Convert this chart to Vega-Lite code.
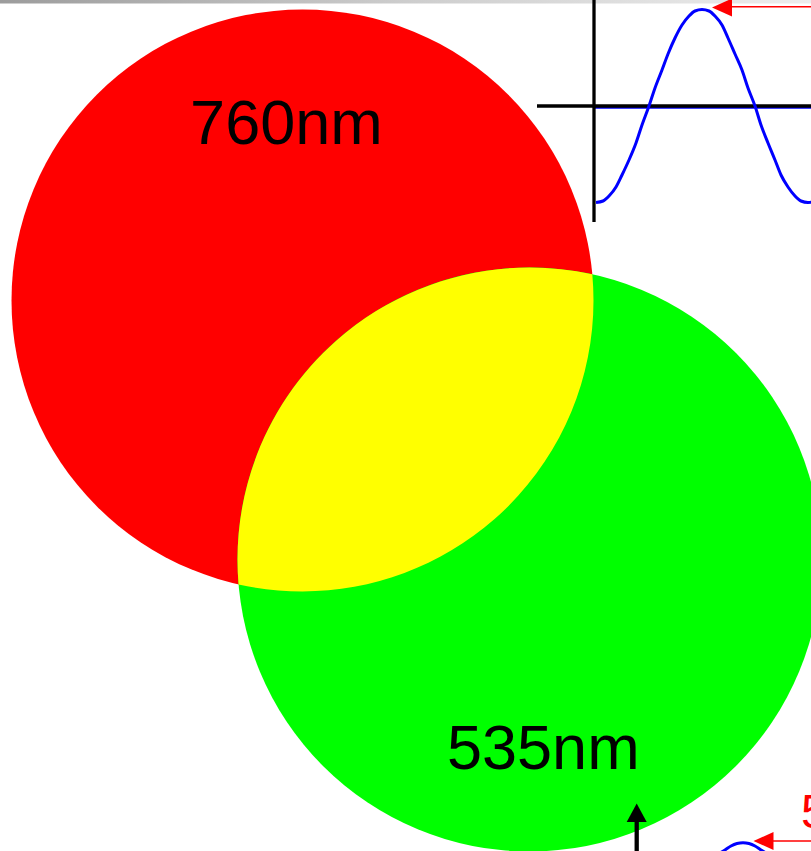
{
  "$schema": "https://vega.github.io/schema/vega-lite/v6.json",
  "width": 811,
  "height": 851,
  "autosize": {"type": "none"},
  "padding": 0,
  "background": "white",
  "config": {"view": {"stroke": null}},
  "encoding": {
    "x": {"field": "x", "type": "quantitative", "scale": {"domain": [0, 811], "nice": false, "zero": false}, "axis": null},
    "y": {"field": "y", "type": "quantitative", "scale": {"domain": [0, 851], "nice": false, "zero": false, "reverse": true}, "axis": null}
  },
  "layer": [
    {
      "data": {"values": [{"x": 0, "x2": 811, "y": 0, "y2": 3.5}]},
      "mark": {"type": "rect", "fill": {"gradient": "linear", "x1": 0, "y1": 0, "x2": 1, "y2": 0, "stops": [{"offset": 0, "color": "#9c9c9c"}, {"offset": 0.5, "color": "#cdcdcd"}, {"offset": 1, "color": "#ededed"}]}},
      "encoding": {"x2": {"field": "x2"}, "y2": {"field": "y2"}}
    },
    {
      "data": {"values": [{"circle": "760nm", "x": 302.5, "y": 300.5}]},
      "mark": {"type": "point", "shape": "circle", "filled": true, "fill": "#ff0000", "size": 338724, "opacity": 1, "strokeWidth": 0, "clip": true}
    },
    {
      "data": {"values": [{"circle": "535nm", "x": 529.5, "y": 559.5}]},
      "mark": {"type": "point", "shape": "circle", "filled": true, "fill": "#00ff00", "size": 341056, "opacity": 1, "strokeWidth": 0, "clip": true}
    },
    {
      "data": {"values": [{"circle": "overlap", "x": 415.44, "y": 429.36}]},
      "mark": {"type": "point", "shape": "M -176.87 155.02 A 291 291 0 0 0 176.87 -155.02 A 292 292 0 0 0 -176.87 155.02 Z", "filled": true, "fill": "#ffff00", "size": 4, "opacity": 1, "strokeWidth": 0}
    },
    {
      "data": {"values": [{"x": 594, "x2": 811, "y": 107.7, "y2": 107.7}]},
      "mark": {"type": "rule", "color": "#0000ff", "strokeWidth": 2},
      "encoding": {"x2": {"field": "x2"}, "y2": {"field": "y2"}}
    },
    {
      "data": {"values": [{"x": 594, "x2": 594, "y": 0, "y2": 222}, {"x": 537, "x2": 811, "y": 106, "y2": 106}]},
      "mark": {"type": "rule", "color": "#000000", "strokeWidth": 3.3},
      "encoding": {"x2": {"field": "x2"}, "y2": {"field": "y2"}}
    },
    {
      "data": {"values": [
        {"s": "top", "x": 596, "y": 202.5}, {"s": "top", "x": 603, "y": 201}, {"s": "top", "x": 609, "y": 196}, {"s": "top", "x": 616, "y": 187},
        {"s": "top", "x": 622, "y": 175}, {"s": "top", "x": 629, "y": 160}, {"s": "top", "x": 636, "y": 143}, {"s": "top", "x": 642, "y": 125},
        {"s": "top", "x": 649, "y": 106}, {"s": "top", "x": 655, "y": 88}, {"s": "top", "x": 662, "y": 70}, {"s": "top", "x": 668, "y": 54},
        {"s": "top", "x": 675, "y": 38}, {"s": "top", "x": 682, "y": 25}, {"s": "top", "x": 689, "y": 16}, {"s": "top", "x": 695, "y": 11},
        {"s": "top", "x": 702, "y": 9.5}, {"s": "top", "x": 709, "y": 11}, {"s": "top", "x": 715, "y": 16}, {"s": "top", "x": 722, "y": 25},
        {"s": "top", "x": 728, "y": 38}, {"s": "top", "x": 735, "y": 54}, {"s": "top", "x": 742, "y": 70}, {"s": "top", "x": 748, "y": 88},
        {"s": "top", "x": 755, "y": 106}, {"s": "top", "x": 761, "y": 125}, {"s": "top", "x": 768, "y": 143}, {"s": "top", "x": 775, "y": 160},
        {"s": "top", "x": 781, "y": 175}, {"s": "top", "x": 788, "y": 187}, {"s": "top", "x": 795, "y": 196}, {"s": "top", "x": 801, "y": 201},
        {"s": "top", "x": 808, "y": 202.5}, {"s": "top", "x": 814, "y": 202}
      ]},
      "mark": {"type": "line", "color": "#0000ff", "strokeWidth": 3, "interpolate": "monotone", "clip": true},
      "encoding": {"detail": {"field": "s"}}
    },
    {
      "data": {"values": [
        {"s": "bottom", "x": 720, "y": 853}, {"s": "bottom", "x": 725, "y": 850}, {"s": "bottom", "x": 731, "y": 846}, {"s": "bottom", "x": 737, "y": 843.5},
        {"s": "bottom", "x": 743, "y": 842.7}, {"s": "bottom", "x": 749, "y": 843.5}, {"s": "bottom", "x": 755, "y": 846}, {"s": "bottom", "x": 761, "y": 850},
        {"s": "bottom", "x": 766, "y": 853}
      ]},
      "mark": {"type": "line", "color": "#0000ff", "strokeWidth": 3, "interpolate": "monotone", "clip": true},
      "encoding": {"detail": {"field": "s"}}
    },
    {
      "data": {"values": [{"x": 730, "x2": 811, "y": 6.8, "y2": 6.8}, {"x": 771, "x2": 811, "y": 841, "y2": 841}]},
      "mark": {"type": "rule", "color": "#ff0000", "strokeWidth": 1.5},
      "encoding": {"x2": {"field": "x2"}, "y2": {"field": "y2"}}
    },
    {
      "data": {"values": [{"arrow": "top", "x": 722, "y": 7.5}, {"arrow": "bottom", "x": 763.5, "y": 841}]},
      "mark": {"type": "point", "shape": "M -10 0 L 10 -9 L 10 9 Z", "filled": true, "fill": "#ff0000", "size": 4, "opacity": 1, "strokeWidth": 0, "clip": true}
    },
    {
      "data": {"values": [{"x": 636.7, "x2": 636.7, "y": 818, "y2": 856}]},
      "mark": {"type": "rule", "color": "#000000", "strokeWidth": 4.3, "clip": true},
      "encoding": {"x2": {"field": "x2"}, "y2": {"field": "y2"}}
    },
    {
      "data": {"values": [{"arrow": "up", "x": 636.7, "y": 812.75}]},
      "mark": {"type": "point", "shape": "M 0 -9.25 L 10 9.25 L -10 9.25 Z", "filled": true, "fill": "#000000", "size": 4, "opacity": 1, "strokeWidth": 0}
    },
    {
      "data": {"values": [{"label": "760nm", "x": 286.4, "y": 144.3}, {"label": "535nm", "x": 543.3, "y": 769}]},
      "mark": {"type": "text", "font": "Liberation Sans", "fontSize": 63, "color": "#000000", "align": "center", "baseline": "alphabetic"},
      "encoding": {"text": {"field": "label"}}
    },
    {
      "data": {"values": [{"label": "535nm", "x": 801, "y": 828}]},
      "mark": {"type": "text", "font": "Liberation Sans", "fontSize": 48, "color": "#ff0000", "align": "left", "baseline": "alphabetic", "clip": true},
      "encoding": {"text": {"field": "label"}}
    }
  ]
}
